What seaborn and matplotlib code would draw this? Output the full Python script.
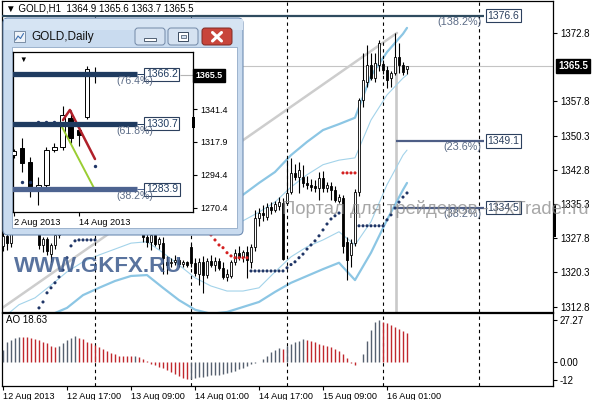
import numpy as np
import pandas as pd
import matplotlib
matplotlib.use("Agg")
import matplotlib.pyplot as plt
import matplotlib.transforms as mtransforms
from matplotlib.patches import Rectangle, FancyBboxPatch
import seaborn as sns

# ---------------- GOLD H1 candles (bar 0 = 12 Aug 2013 01:00) ----------------
bar_open = [1326.0, 1328.2, 1326.8, 1330.0, 1331.5, 1332.8, 1330.0, 1329.0, 1329.3, 1328.9,
            1326.2, 1327.5, 1324.4, 1326.3, 1328.5, 1331.0, 1333.5, 1336.0, 1337.5, 1336.5,
            1335.0, 1336.0, 1335.2, 1334.0, 1335.0, 1334.2, 1333.0, 1334.0, 1333.2, 1332.0,
            1333.0, 1332.5, 1331.5, 1332.4, 1330.8, 1331.2, 1328.0, 1327.0, 1328.5, 1326.5,
            1326.8, 1322.5, 1322.3, 1322.6, 1323.0, 1322.2, 1322.5, 1325.8, 1322.4, 1320.0,
            1322.5, 1319.8, 1322.8, 1322.0, 1322.8, 1321.2, 1319.3, 1319.6, 1322.6, 1324.5,
            1323.6, 1324.8, 1322.6, 1325.9, 1332.2, 1333.3, 1332.5, 1334.6, 1334.0, 1334.8,
            1335.5, 1335.6, 1338.0, 1342.1, 1341.2, 1341.2, 1339.9, 1339.5, 1339.2, 1338.9,
            1341.0, 1338.8, 1339.3, 1338.4, 1336.0, 1336.6, 1327.0, 1324.0, 1326.7, 1338.0,
            1358.1, 1362.1, 1365.8, 1362.9, 1365.8, 1366.0, 1364.7, 1362.9, 1364.0, 1367.5,
            1365.8, 1364.9]
bar_high = [1329.5, 1329.8, 1330.5, 1332.5, 1333.5, 1333.2, 1331.0, 1330.5, 1330.0, 1329.5,
            1328.0, 1328.0, 1326.8, 1328.9, 1331.5, 1334.0, 1336.5, 1338.5, 1339.0, 1337.5,
            1336.5, 1337.0, 1336.0, 1335.5, 1336.2, 1335.0, 1334.5, 1335.0, 1334.0, 1333.5,
            1334.2, 1333.5, 1333.0, 1333.2, 1332.0, 1332.0, 1329.5, 1329.0, 1330.0, 1328.0,
            1328.0, 1323.8, 1323.5, 1324.0, 1323.6, 1323.0, 1322.8, 1326.5, 1323.5, 1323.5,
            1323.8, 1323.5, 1324.0, 1323.6, 1323.5, 1322.5, 1321.0, 1323.0, 1325.5, 1326.0,
            1325.2, 1326.0, 1326.5, 1334.0, 1334.5, 1335.0, 1335.5, 1335.8, 1336.0, 1336.8,
            1336.5, 1345.0, 1345.4, 1344.0, 1344.5, 1343.8, 1341.5, 1340.8, 1340.5, 1342.2,
            1342.5, 1340.0, 1340.0, 1339.2, 1337.5, 1337.2, 1328.0, 1327.5, 1338.5, 1358.5,
            1368.4, 1370.2, 1368.4, 1368.4, 1371.2, 1366.8, 1365.5, 1364.5, 1372.8, 1370.6,
            1366.5, 1365.6]
bar_low = [1325.0, 1325.2, 1325.8, 1329.2, 1330.5, 1329.5, 1328.6, 1328.6, 1328.6, 1325.5,
           1324.8, 1324.0, 1322.6, 1325.5, 1327.8, 1330.2, 1332.8, 1335.0, 1335.8, 1334.5,
           1333.8, 1334.5, 1333.5, 1332.8, 1333.5, 1332.5, 1331.8, 1332.6, 1331.5, 1331.0,
           1331.8, 1331.0, 1330.5, 1330.2, 1330.1, 1327.0, 1325.8, 1325.2, 1326.0, 1325.5,
           1320.0, 1320.0, 1321.4, 1321.8, 1321.5, 1321.4, 1321.5, 1321.5, 1319.5, 1317.5,
           1315.8, 1319.0, 1321.5, 1320.5, 1320.8, 1318.8, 1318.3, 1319.0, 1322.0, 1323.0,
           1322.5, 1319.1, 1321.3, 1325.0, 1330.5, 1331.5, 1331.8, 1333.2, 1333.5, 1334.0,
           1323.0, 1335.0, 1337.5, 1340.5, 1337.7, 1339.0, 1338.5, 1338.2, 1338.0, 1336.2,
           1338.0, 1338.0, 1336.2, 1335.8, 1335.5, 1324.5, 1318.6, 1321.5, 1326.0, 1337.0,
           1356.5, 1361.0, 1362.5, 1362.0, 1364.5, 1363.8, 1360.7, 1361.0, 1363.5, 1364.0,
           1363.5, 1363.7]
bar_close = [1328.2, 1326.8, 1330.0, 1331.5, 1332.8, 1330.0, 1329.0, 1329.3, 1328.9, 1326.2,
             1327.5, 1325.0, 1326.3, 1328.5, 1331.0, 1333.5, 1336.0, 1337.5, 1336.5, 1335.0,
             1336.0, 1335.2, 1334.0, 1335.0, 1334.2, 1333.0, 1334.0, 1333.2, 1332.0, 1333.0,
             1332.5, 1331.5, 1332.4, 1330.8, 1331.2, 1328.0, 1327.0, 1328.5, 1326.5, 1327.6,
             1323.5, 1322.0, 1322.6, 1323.0, 1322.2, 1322.5, 1322.0, 1322.4, 1320.2, 1322.5,
             1319.8, 1322.8, 1322.0, 1322.8, 1321.2, 1319.3, 1320.0, 1322.6, 1324.5, 1323.6,
             1324.8, 1323.0, 1325.9, 1332.2, 1333.3, 1332.8, 1334.6, 1334.0, 1335.2, 1335.8,
             1323.3, 1337.7, 1342.1, 1341.2, 1342.8, 1339.9, 1339.4, 1339.0, 1338.8, 1341.0,
             1338.8, 1339.5, 1338.4, 1336.2, 1336.8, 1326.0, 1323.0, 1326.7, 1337.9, 1358.1,
             1362.5, 1365.8, 1362.9, 1366.2, 1370.6, 1364.7, 1362.5, 1364.0, 1367.5, 1365.8,
             1364.2, 1365.5]

# Parabolic SAR per bar and its side
sar_values = [1300.0, 1301.5, 1303.0, 1304.5, 1306.0, 1307.4, 1308.8, 1310.0, 1311.2,
              1312.5, 1313.8, 1315.8, 1316.9, 1318.0, 1319.3, 1320.8, 1323.5, 1326.1, 1327.2,
              1327.4, 1327.4, 1327.4, 1327.4, 1327.4,
              1328.8, 1329.0, 1329.2, 1329.4, 1329.6, 1329.7, 1329.8, 1329.9, 1330.0, 1330.0, 1330.0,
              1339.5, 1339.0, 1338.4, 1337.8, 1337.1, 1336.3, 1335.6, 1334.9, 1334.2, 1333.5,
              1332.8, 1332.1, 1331.4, 1330.7, 1330.0, 1329.4, 1328.9, 1328.5,
              1327.4, 1326.3, 1325.7, 1324.6, 1323.9, 1323.5, 1323.5, 1323.5, 1323.5,
              1320.6, 1320.6, 1320.6, 1320.6, 1320.6, 1320.6, 1320.6, 1320.6, 1320.6,
              1321.3, 1322.0, 1322.6, 1323.5, 1324.3, 1325.4, 1326.3, 1327.2, 1328.3, 1329.6,
              1330.9, 1332.0, 1332.7, 1333.3,
              1342.1, 1342.1, 1342.1, 1342.1,
              1330.5, 1330.5, 1330.5, 1330.5, 1330.5, 1330.5, 1330.5,
              1331.8, 1332.9, 1334.4, 1335.7, 1336.8, 1337.7]
sar_side = (["below"] * 35 + ["above"] * 27 + ["below"] * 23 + ["above"] * 4 + ["below"] * 13)

# Awesome Oscillator
ao_values = [8.0, 12.6, 14.3, 15.8, 16.4, 16.2, 16.0, 15.5, 14.9, 14.3,
             13.2, 12.0, 10.5, 9.5, 10.1, 12.2, 14.3, 15.8, 16.6, 15.8,
             14.7, 13.2, 12.2, 11.1, 9.9, 8.4, 6.9, 5.7, 4.8, 3.8,
             3.7, 3.6, 3.5, 3.6, 3.0, 2.1, 0.2, -1.5, -2.1, -3.2,
             -4.2, -5.3, -6.7, -8.0, -9.5, -10.5, -11.3, -11.1, -10.5, -9.9,
             -9.7, -9.5, -9.0, -8.8, -8.4, -8.0, -7.4, -6.7, -5.9, -4.8,
             -3.8, -2.7, -1.7, -1.1, -0.4, 1.5, 3.8, 6.3, 8.0, 8.8,
             8.5, 10.5, 11.8, 12.6, 13.4, 14.7, 14.3, 13.4, 12.6, 11.8,
             10.9, 10.2, 9.5, 8.6, 7.1, 5.0, 2.5, -0.8, -2.1, -0.5,
             5.3, 13.7, 21.0, 26.0, 27.27, 26.3, 25.2, 24.0, 22.8, 21.6,
             20.2, 18.63]

# Bollinger bands (2 dev thick, 1 dev thin), read at sample bars
band_idx = [0, 4, 8, 12, 16, 20, 24, 28, 32, 36, 40, 44, 48, 52, 56, 60, 64, 68, 72, 76,
            80, 84, 88, 92, 96, 100, 101]
bb2_upper = [1343.0, 1344.5, 1345.5, 1346.0, 1346.5, 1347.5, 1348.5, 1349.0, 1349.5, 1349.3,
             1347.5, 1345.0, 1342.5, 1340.0, 1338.5, 1337.3, 1339.9, 1342.3, 1346.0, 1348.9,
             1351.5, 1352.8, 1354.2, 1363.4, 1368.6, 1372.6, 1373.9]
bb1_upper = [1334.9, 1335.3, 1336.5, 1337.3, 1338.5, 1339.5, 1340.7, 1341.6, 1342.0, 1341.9,
             1339.8, 1337.2, 1334.4, 1332.4, 1331.7, 1331.6, 1333.5, 1335.7, 1339.0, 1341.7,
             1343.9, 1344.9, 1345.4, 1353.7, 1359.2, 1362.9, 1363.6]
bb1_lower = [1310.3, 1313.2, 1314.7, 1317.5, 1320.4, 1322.6, 1324.1, 1325.4, 1326.7, 1327.0,
             1324.6, 1321.9, 1319.1, 1317.3, 1316.2, 1316.2, 1316.9, 1320.4, 1323.7, 1325.9,
             1327.4, 1329.2, 1326.3, 1331.4, 1339.5, 1346.0, 1347.1]
bb2_lower = [1306.6, 1307.7, 1309.4, 1311.0, 1312.5, 1315.3, 1316.9, 1318.4, 1319.5, 1319.7,
             1316.9, 1314.2, 1312.1, 1311.2, 1311.6, 1312.7, 1313.8, 1316.0, 1318.0, 1319.5,
             1321.0, 1322.4, 1318.6, 1324.6, 1331.8, 1338.4, 1339.9]

price_ticks = [1372.8, 1357.8, 1350.3, 1342.8, 1335.3, 1327.8, 1320.3, 1312.8]
last_price = 1365.5
ao_ticks = [27.27, 0.0, -12]
ao_tick_labels = ["27.27", "0.00", "-12"]
time_tick_idx = [0, 16, 32, 48, 64, 80, 96]
time_tick_labels = ["12 Aug 2013", "12 Aug 17:00", "13 Aug 09:00", "14 Aug 01:00",
                    "14 Aug 17:00", "15 Aug 09:00", "16 Aug 01:00"]
day_sep_idx = [23, 47, 71, 95, 119]

fib_levels = [1376.6, 1349.1, 1334.5]
fib_labels = ["(138.2%)", "(23.6%)", "(38.2%)"]
fib_start = [-0.5, 98.25, 98.25]
fib_end = 120.25
trend_x = [-0.5, 98.5]
trend_y = [1312.3, 1372.8]
anchor_idx = 98.25

# ---------------- GOLD Daily (inset) ----------------
daily_open = [1308.5, 1313.5, 1303.5, 1285.0, 1287.1, 1312.1, 1314.3, 1335.0, 1326.4, 1335.7, 1364.9]
daily_high = [1313.0, 1320.7, 1307.0, 1292.8, 1314.3, 1317.0, 1343.5, 1340.7, 1330.0, 1372.2, 1371.5]
daily_low = [1306.0, 1296.4, 1278.5, 1272.8, 1285.7, 1310.7, 1312.0, 1317.0, 1315.0, 1334.5, 1360.1]
daily_close = [1311.4, 1302.8, 1285.7, 1287.1, 1312.1, 1314.3, 1337.1, 1320.7, 1322.8, 1370.0, 1365.5]
daily_ticks = [1341.4, 1317.9, 1294.4, 1270.4]
daily_date_idx = [0, 8]
daily_date_labels = ["2 Aug 2013", "14 Aug 2013"]
daily_fib_levels = [1366.2, 1330.7, 1283.9]
daily_fib_labels = ["(76.4%)", "(61.8%)", "(38.2%)"]
daily_sar_idx = [1, 2, 3, 4, 5, 10]
daily_sar = [1289.0, 1289.0, 1332.0, 1332.0, 1332.0, 1300.5]
red_line_k = [6.05, 6.9, 10.0]
red_line_p = [1333.5, 1340.7, 1305.5]
green_line_k = [5.93, 10.0]
green_line_p = [1328.5, 1283.3]

# ---------------- figure ----------------
sns.set_theme(style="white")
plt.rcParams['font.family'] = ['Liberation Sans', 'DejaVu Sans']

W, H = 596, 400
fig = plt.figure(figsize=(W / 100, H / 100), dpi=100)
fig.patch.set_facecolor('white')


def fbox(x0, y0, x1, y1):
    return [x0 / W, 1 - y1 / H, (x1 - x0) / W, (y1 - y0) / H]


ax = fig.add_axes(fbox(2, 1, 553, 312), zorder=1)
ax_ao = fig.add_axes(fbox(2, 313, 553, 386), zorder=1)
x_lim = (-0.25, 137.5)

idx = np.arange(len(bar_open))
o = np.array(bar_open); h = np.array(bar_high)
l = np.array(bar_low); c = np.array(bar_close)

ax.set_xlim(*x_lim)
ax.set_ylim(1311.6, 1379.8)

# price line, trendline, anchor
ax.axhline(last_price, color='#c4c4c4', lw=0.8, zorder=1.5)
ax.plot(trend_x, trend_y, color='#cdcdcd', lw=1.8, zorder=1.6)
ax.vlines(anchor_idx, 1311.6, last_price, color='#c9c9c9', lw=1.9, zorder=1.7)

# bands
band_df = pd.DataFrame({'idx': band_idx, 'bb2u': bb2_upper, 'bb1u': bb1_upper,
                        'bb1l': bb1_lower, 'bb2l': bb2_lower})
for col, lw, colr in [('bb2u', 1.6, '#8cc6e4'), ('bb2l', 1.6, '#8cc6e4'),
                      ('bb1u', 0.8, '#a3d3ea'), ('bb1l', 0.8, '#a3d3ea')]:
    sns.lineplot(data=band_df, x='idx', y=col, ax=ax, color=colr, linewidth=lw,
                 estimator=None, sort=False, zorder=2)

# candles
ax.vlines(idx, l, h, color='black', lw=0.8, zorder=3)
body_lo = np.minimum(o, c)
body_h = np.maximum(np.abs(c - o), 0.12)
body_col = np.where(c >= o, 'white', 'black')
ax.bar(idx, body_h, bottom=body_lo, width=0.62, color=body_col, edgecolor='black',
       linewidth=0.6, zorder=3.5)

# SAR
sns.scatterplot(x=idx, y=sar_values, hue=sar_side,
                palette={'below': '#1f3566', 'above': '#d42020'}, s=5, linewidth=0,
                legend=False, ax=ax, zorder=4)

# day separators
for s in day_sep_idx:
    ax.axvline(s, color='black', lw=0.8, ls=(0, (3, 3)), zorder=2.5)
    ax_ao.axvline(s, color='black', lw=0.8, ls=(0, (3, 3)), zorder=2.5)

# fibonacci
fib_colors = ['#2f4b5f', '#4e5e86', '#4e5e86']
for lvl, lbl, x0, colr in zip(fib_levels, fib_labels, fib_start, fib_colors):
    ax.hlines(lvl, x0, fib_end, color=colr, lw=1.6, zorder=5)
    ax.text(fib_end + 0.9, lvl, f"{lvl:.1f}", fontsize=7.5, color='#2c405e', va='center',
            ha='left', zorder=6,
            bbox=dict(boxstyle='square,pad=0.18', fc='white', ec='#2c405e', lw=0.8))
    ax.text(fib_end - 0.7, lvl - 0.25, lbl, fontsize=7.8, color='#5b6b86', va='top',
            ha='right', zorder=6)

# axes styling
ax.set_xlabel(''); ax.set_ylabel('')
ax.yaxis.tick_right()
ax.set_yticks(price_ticks)
ax.set_yticklabels([f"{v:.1f}" for v in price_ticks])
ax.tick_params(axis='y', right=True, left=False, labelright=True, labelleft=False,
               length=3, width=0.8, pad=2, labelsize=7, colors='black', direction='out')
ax.tick_params(axis='x', bottom=False, labelbottom=False)
for sp in ax.spines.values():
    sp.set_color('black'); sp.set_linewidth(0.9)
ax.set_facecolor('white')

trans = mtransforms.blended_transform_factory(ax.transAxes, ax.transData)
ax.text(1.009, last_price, f"{last_price:.1f}", transform=trans, ha='left', va='center',
        fontsize=7, color='white', fontweight='bold', clip_on=False, zorder=10,
        bbox=dict(boxstyle='square,pad=0.22', fc='black', ec='black'))

# AO panel
ao = np.array(ao_values)
ao_up = np.diff(ao, prepend=ao[0] - 1) > 0
ax_ao.vlines(idx, 0, ao, colors=np.where(ao_up, '#56606f', '#c0282d'), lw=1.0, zorder=3)
ax_ao.set_xlim(*x_lim)
ax_ao.set_ylim(-15.9, 31.9)
ax_ao.yaxis.tick_right()
ax_ao.set_yticks(ao_ticks)
ax_ao.set_yticklabels(ao_tick_labels)
ax_ao.set_xticks(time_tick_idx)
ax_ao.set_xticklabels(time_tick_labels)
for t in ax_ao.get_xticklabels():
    t.set_ha('left')
ax_ao.tick_params(axis='y', right=True, left=False, length=3, width=0.8, pad=2,
                  labelsize=7, colors='black', direction='out')
ax_ao.tick_params(axis='x', bottom=True, length=3, width=0.8, pad=1.5, labelsize=6.6,
                  colors='black', direction='out')
for sp in ax_ao.spines.values():
    sp.set_color('black'); sp.set_linewidth(0.9)
ax_ao.text(0.008, 0.9, f"AO {ao_values[-1]}", transform=ax_ao.transAxes, fontsize=7,
           va='center', ha='left', color='black')

# header (with white backing like the terminal's info line)
fig.text(6 / W, 1 - 8.5 / H,
         f"▼ GOLD,H1  {bar_open[-1]} {bar_high[-1]} {bar_low[-1]} {bar_close[-1]}",
         fontsize=7, va='center', ha='left', color='black', zorder=3,
         bbox=dict(boxstyle='square,pad=0.12', fc='white', ec='none'))

# small black marker on price axis
fig.patches.append(Rectangle((553 / W, 1 - 237 / H), 3 / W, 32 / H, fc='black', ec='none',
                             transform=fig.transFigure, zorder=3))

# ---------------- inset window chrome ----------------
ov = fig.add_axes([0, 0, 1, 1], zorder=5)
ov.set_xlim(0, W); ov.set_ylim(0, H); ov.axis('off')
ov.patch.set_alpha(0)


def R(x0, y0, x1, y1, **kw):
    return Rectangle((x0, H - y1), x1 - x0, y1 - y0, **kw)


ov.add_patch(FancyBboxPatch((3, H - 235), 240, 217,
                            boxstyle="round,pad=0,rounding_size=5",
                            fc='#c9dbef', ec='#6f8db3', lw=0.8))
ov.add_patch(R(3.5, 19, 242.5, 30, fc='#d6e4f3', ec='none'))
ov.add_patch(R(12, 47, 237, 228, fc='white', ec='#91a9c6', lw=0.6))
ov.add_patch(R(14, 31, 25, 42, fc='#eef3f9', ec='#6b7f99', lw=0.6))
ov.plot([15.5, 18, 20.5, 23.5], [H - 40, H - 36, H - 38.5, H - 33.5], color='#3d6fb0', lw=0.8)
ov.text(31, H - 37, "GOLD,Daily", fontsize=8.5, va='center', ha='left', color='#111111')
for x0, x1, fcol, ecol in [(135, 165, '#d5e2f1', '#7188a6'), (168, 198, '#d5e2f1', '#7188a6'),
                           (202, 232, '#c8453b', '#7e2a24')]:
    ov.add_patch(FancyBboxPatch((x0, H - 45), x1 - x0, 17,
                                boxstyle='round,pad=0,rounding_size=3',
                                fc=fcol, ec=ecol, lw=0.7))
ov.add_patch(R(144, 38, 156, 41, fc='white', ec='#3a4a60', lw=0.6))
ov.add_patch(R(178, 32, 188, 40.5, fc='white', ec='#3a4a60', lw=0.7))
ov.add_patch(R(180.5, 34.5, 185.5, 38, fc='#d5e2f1', ec='#3a4a60', lw=0.5))
ov.plot([212.5, 221.5], [H - 32.5, H - 41], color='white', lw=2.2)
ov.plot([212.5, 221.5], [H - 41, H - 32.5], color='white', lw=2.2)

# ---------------- inset daily chart ----------------
axd = fig.add_axes(fbox(13, 52, 193, 212), zorder=6)
axd.set_facecolor('white')
kd = np.arange(len(daily_open))
do = np.array(daily_open); dh = np.array(daily_high)
dl = np.array(daily_low); dc = np.array(daily_close)
axd.set_xlim(-0.123, 22.1)
axd.set_ylim(1267.5, 1382.3)

axd.hlines(last_price, 20.5, 22.1, color='#b5b5b5', lw=0.8, zorder=1)
axd.vlines(kd, dl, dh, color='black', lw=0.8, zorder=3)
axd.bar(kd, np.maximum(np.abs(dc - do), 0.5), bottom=np.minimum(do, dc), width=0.55,
        color=np.where(dc >= do, 'white', 'black'), edgecolor='black', linewidth=0.7, zorder=3.5)
axd.plot(green_line_k, green_line_p, color='#9acd32', lw=1.4, zorder=4)
axd.plot(red_line_k, red_line_p, color='#b0202a', lw=1.8, zorder=4)
sns.scatterplot(x=daily_sar_idx, y=daily_sar, color='#1f3566', s=6, linewidth=0,
                ax=axd, zorder=4, legend=False)
dfib_colors = ['#1f3b60', '#1f3b60', '#4d6390']
for lvl, lbl, colr in zip(daily_fib_levels, daily_fib_labels, dfib_colors):
    axd.hlines(lvl, -0.2, 15.2, color=colr, lw=3.8, zorder=5)
    axd.hlines(lvl, 15.2, 16.2, color=colr, lw=0.7, zorder=5)
    axd.text(16.3, lvl, f"{lvl:.1f}", fontsize=7.5, color='#1f3b60', va='center', ha='left',
             zorder=6, bbox=dict(boxstyle='square,pad=0.15', fc='white', ec='#2c405e', lw=0.8))
    axd.text(17.2, lvl - 1.2, lbl, fontsize=7.6, color='#5b6b86', va='top', ha='right', zorder=6)
axd.set_xlabel(''); axd.set_ylabel('')
axd.yaxis.tick_right()
axd.set_yticks(daily_ticks)
axd.set_yticklabels([f"{v:.1f}" for v in daily_ticks])
axd.set_xticks(daily_date_idx)
axd.set_xticklabels(daily_date_labels)
for t in axd.get_xticklabels():
    t.set_ha('left')
axd.tick_params(axis='y', right=True, left=False, length=3, width=0.8, pad=2,
                labelsize=6.4, colors='black', direction='out')
axd.tick_params(axis='x', bottom=True, length=3, width=0.8, pad=1.5, labelsize=6.6,
                colors='black', direction='out')
for sp in axd.spines.values():
    sp.set_color('black'); sp.set_linewidth(0.9)
transd = mtransforms.blended_transform_factory(axd.transAxes, axd.transData)
axd.text(1.015, last_price, f"{last_price:.1f}", transform=transd, ha='left', va='center',
         fontsize=6.4, color='white', fontweight='bold', clip_on=False, zorder=10,
         bbox=dict(boxstyle='square,pad=0.25', fc='black', ec='black'))
axd.text(0.035, 0.945, "▼", transform=axd.transAxes, fontsize=5.5, color='black',
         ha='left', va='center')

top = fig.add_axes([0, 0, 1, 1], zorder=7)
top.set_xlim(0, W); top.set_ylim(0, H); top.axis('off'); top.patch.set_alpha(0)
top.add_patch(R(192, 117, 194.5, 128, fc='black', ec='none'))

# watermarks
fig.text(14 / W, 1 - 266 / H, "WWW.GKFX.RU", fontsize=16, fontweight='bold',
         color='#3c5a8d', alpha=0.85, va='center', ha='left', zorder=20)
fig.text(282 / W, 1 - 209 / H, "Портал для трейдеров - FxTrader.ru", fontsize=13.3,
         color='#8a8a8a', alpha=0.75, va='center', ha='left', zorder=20)

fig.savefig('out.png', dpi=100)
